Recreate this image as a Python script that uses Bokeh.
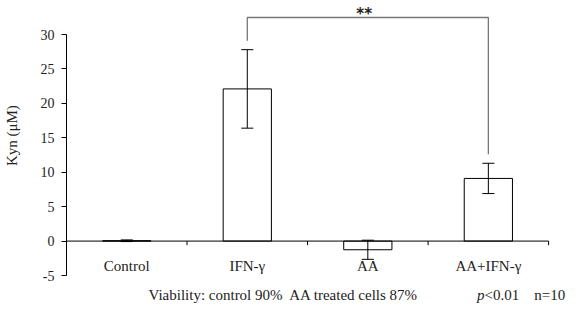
from bokeh.plotting import figure
from bokeh.models import Range1d, FixedTicker, Label, ColumnDataSource
from bokeh.core.properties import value
from bokeh.embed import file_html
from bokeh.resources import INLINE

categories = ["Control", "IFN-\u03b3", "AA", "AA+IFN-\u03b3"]
means = [0.05, 22.1, -1.26, 9.1]
errors = [0.12, 5.7, 1.39, 2.2]
y_ticks = [-5, 0, 5, 10, 15, 20, 25, 30]
y_label = "Kyn (\u03bcM)"
sig_pair = (1, 3)
sig_label = "**"
footnote = "Viability: control 90%\u00a0 AA treated cells 87%"
p_text = "p"
p_rest = "<0.01\u00a0\u00a0\u00a0 n=10"

SERIF = "Liberation Serif"

n = len(categories)
xs = [i + 0.5 for i in range(n)]

# frame runs to the right edge so the footnote is not clipped
p = figure(width=568, height=304, output_backend="svg", toolbar_location=None,
           x_range=Range1d(0, n + 0.165), y_range=Range1d(-9.21, 34.94),
           min_border_left=63, min_border_right=0, min_border_top=0, min_border_bottom=0)
p.outline_line_color = None
p.grid.visible = False
p.xaxis.visible = False
p.background_fill_color = "white"

ya = p.yaxis[0]
ya.ticker = FixedTicker(ticks=y_ticks)
ya.bounds = (y_ticks[0], y_ticks[-1])
ya.major_label_overrides = {t: str(t) for t in y_ticks}
ya.minor_tick_line_color = None
ya.major_tick_out = 5
ya.major_tick_in = 0
ya.major_label_standoff = 7
ya.axis_line_color = "black"
ya.major_tick_line_color = "black"
ya.major_label_text_font = SERIF
ya.major_label_text_font_size = "14px"
ya.major_label_text_color = "#222222"
# leading no-break spaces lift the label above the frame centre, as in the reference
ya.axis_label = "\u00a0" * 9 + y_label
ya.axis_label_text_font = SERIF
ya.axis_label_text_font_size = "15px"
ya.axis_label_text_font_style = "normal"
ya.axis_label_text_color = "#222222"
ya.axis_label_standoff = 18

# bars
src = ColumnDataSource(dict(x=xs, top=means, lo=[m - e for m, e in zip(means, errors)],
                            hi=[m + e for m, e in zip(means, errors)], cat=categories))
p.vbar(x="x", top="top", bottom=0, width=0.4, source=src,
       fill_color="white", line_color="black", line_width=1)

# x axis line and ticks
p.segment(x0=[0], x1=[n], y0=[0], y1=[0], line_color="black", line_width=1)
p.segment(x0=list(range(n + 1)), x1=list(range(n + 1)), y0=[0] * (n + 1), y1=[-0.6] * (n + 1),
          line_color="black", line_width=1)

# error bars
cap = 0.05
p.segment(x0="x", x1="x", y0="lo", y1="hi", source=src, line_color="black", line_width=1)
p.segment(x0=[x - cap for x in xs], x1=[x + cap for x in xs], y0=src.data["hi"], y1=src.data["hi"],
          line_color="black", line_width=1)
p.segment(x0=[x - cap for x in xs], x1=[x + cap for x in xs], y0=src.data["lo"], y1=src.data["lo"],
          line_color="black", line_width=1)

# category labels
p.text(x="x", y=-3.55, text="cat", source=src, text_font=value(SERIF), text_font_size="15px",
       text_align="center", text_baseline="middle", text_color="#222222")

# significance bracket
a, b = sig_pair
top_y = 32.47
p.line(x=[xs[a], xs[a], xs[b], xs[b]],
       y=[src.data["hi"][a] + 1.3, top_y, top_y, src.data["hi"][b] + 1.3],
       line_color="#777777", line_width=1.3)
p.text(x=[(xs[a] + xs[b]) / 2 - 0.03], y=[33.0], text=[sig_label], text_font=value("DejaVu Sans"),
       text_font_size="15px", text_font_style="bold", text_align="center", text_baseline="middle",
       text_color="#222222")

# footnotes
p.add_layout(Label(x=0.68, y=-7.9, text=footnote, text_font=SERIF, text_font_size="15px",
                   text_baseline="middle", text_color="#222222"))
p.add_layout(Label(x=3.406, y=-7.9, text=p_text, text_font=SERIF, text_font_size="15px",
                   text_font_style="italic", text_baseline="middle", text_color="#222222"))
p.add_layout(Label(x=3.468, y=-7.9, text=p_rest, text_font=SERIF, text_font_size="15px",
                   text_baseline="middle", text_color="#222222"))

open("out.html", "w").write(file_html(p, INLINE))
